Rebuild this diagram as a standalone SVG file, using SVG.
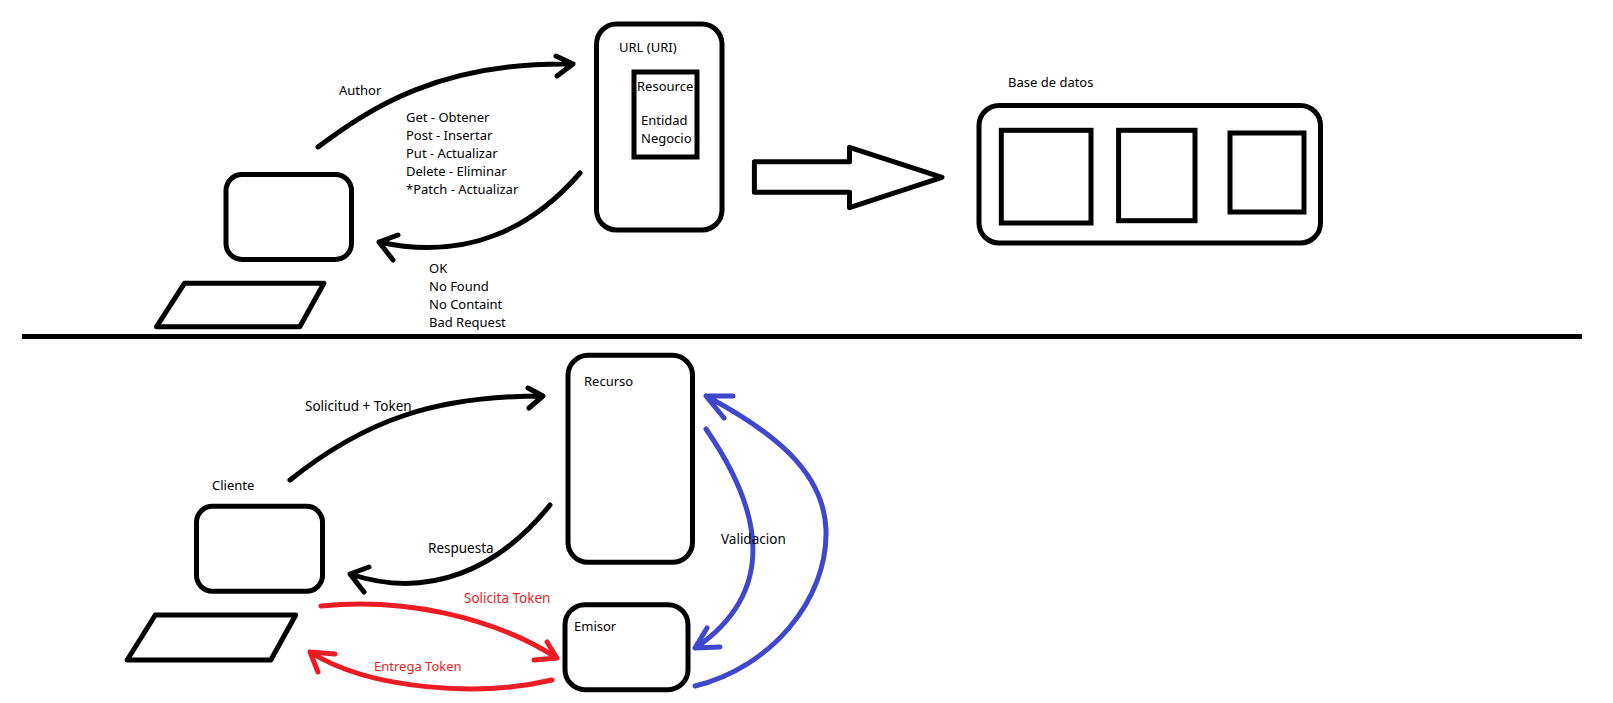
<svg xmlns="http://www.w3.org/2000/svg" width="1613" height="703" viewBox="0 0 1613 703">
<style>
.s{fill:none;stroke:#000;stroke-width:5}
.c{fill:none;stroke:#000;stroke-width:5;stroke-linecap:round;stroke-linejoin:round}
.r{stroke:#ED1C24}
.b{stroke:#3F48CC}
text{font-family:"Noto Sans","Open Sans",sans-serif;font-size:13px;fill:#000}
.l{font-size:13.500px}
.rt{fill:#ED1C24}
</style>
<rect width="1613" height="703" fill="#fff"/>
<g id="connectors">
<path class="c" d="M318,147C370,108 440,62 571,64M556,56L573,64L557,76"/>
<path class="c" d="M580,173C535,225 470,262 379,242M398,235L379,242L393,260"/>
<path class="c" d="M290,480C365,420 435,396 543,396M528,388L543,396L529,408"/>
<path class="c" d="M550,505C498,570 428,600 350,574M369,567L350,574L364,592"/>
<path class="c r" d="M321,606C400,598 490,615 557,658M547,642L557,658L534,660"/>
<path class="c r" d="M552,680C480,697 370,690 310,652M335,654L310,652L318,672"/>
<path class="c b" d="M706,429C762,510 778,590 697,647M707,628L695,648L720,647"/>
<path class="c b" d="M695,686C770,668 828,600 826,530C824,470 770,430 706,396M733,396L706,396L724,418"/>
</g>
<g id="divider"><line x1="22" y1="336.500" x2="1582" y2="336.500" stroke="#000" stroke-width="5"/></g>
<g id="client-top">
<rect class="s" x="226" y="174.500" width="125.500" height="85" rx="16"/>
<path class="s" d="M184.400,283.300H323.900L299.800,326.700H156.600Z" stroke-linejoin="round"/>
</g>
<g id="resource-top">
<rect class="s" x="596.500" y="24" width="125.500" height="206" rx="20"/>
<rect class="s" x="634" y="72" width="63" height="85"/>
<text x="619" y="52">URL (URI)</text>
<text x="637" y="91">Resource</text>
<text x="641" y="125">Entidad</text>
<text x="641" y="143">Negocio</text>
</g>
<g id="labels-top">
<text x="339" y="95">Author</text>
<text x="406" y="122">Get - Obtener</text>
<text x="406" y="140">Post - Insertar</text>
<text x="406" y="158">Put - Actualizar</text>
<text x="406" y="176">Delete - Eliminar</text>
<text x="406" y="194">*Patch - Actualizar</text>
<text x="429" y="273">OK</text>
<text x="429" y="291">No Found</text>
<text x="429" y="309">No Containt</text>
<text x="429" y="327">Bad Request</text>
</g>
<g id="big-arrow"><path class="s" stroke-linejoin="round" d="M754.400,161.700H849.500V147.300L942,177.300L849.500,207.700V192.300H754.400Z"/></g>
<g id="database">
<rect class="s" x="979" y="105.500" width="341.500" height="137.500" rx="20"/>
<rect class="s" x="1001.300" y="130.300" width="89.700" height="92.700"/>
<rect class="s" x="1118.600" y="130.300" width="76.400" height="90.400"/>
<rect class="s" x="1230" y="133" width="74" height="79"/>
<text x="1008" y="87">Base de datos</text>
</g>
<g id="client-bottom">
<rect class="s" x="196.500" y="506.300" width="126" height="85" rx="16"/>
<path class="s" stroke-linejoin="round" d="M155.300,615H295.700L270.800,660H127.200Z"/>
<text x="212" y="490">Cliente</text>
</g>
<g id="recurso">
<rect class="s" x="568" y="355.300" width="124.500" height="207" rx="20"/>
<text x="584" y="386">Recurso</text>
</g>
<g id="emisor">
<rect class="s" x="565" y="604.700" width="123" height="85" rx="20"/>
<text x="574" y="631">Emisor</text>
</g>
<g id="labels-bottom">
<text class="l" x="305" y="411">Solicitud + Token</text>
<text class="l" x="428" y="553">Respuesta</text>
<text class="l" x="721" y="544">Validacion</text>
<text class="l rt" x="464" y="603">Solicita Token</text>
<text class="rt" x="374" y="671">Entrega Token</text>
</g>
</svg>
